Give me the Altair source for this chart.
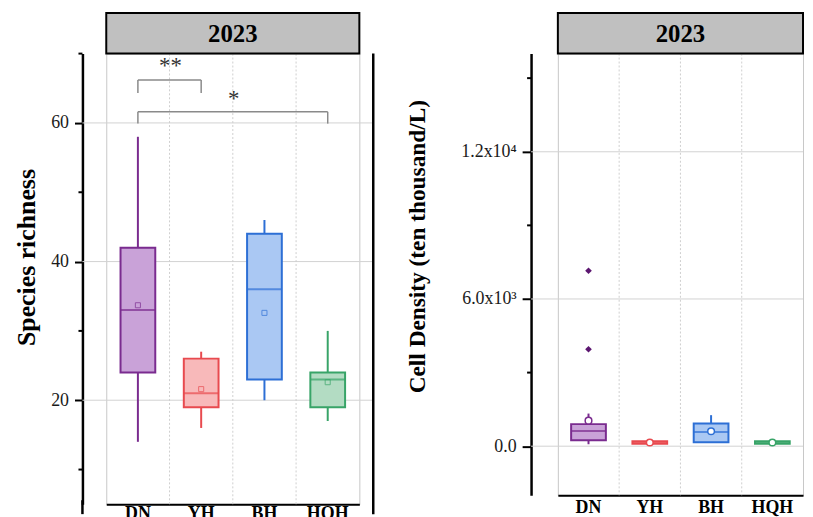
import altair as alt
import pandas as pd

SERIF = "Liberation Serif"

groups = ["DN", "YH", "BH", "HQH"]
stroke_colors = ["#7a2b8f", "#e84a4f", "#2d6fd5", "#38a468"]
fill_colors = ["#c9a2d8", "#f8b9ba", "#aac8f3", "#b3dcc3"]
year_label = ["2023"]

# ---- Panel 1: species richness ----
sr_min = [14, 16, 20, 17]
sr_q1 = [24, 19, 23, 19]
sr_median = [33, 21, 36, 23]
sr_q3 = [42, 26, 44, 24]
sr_max = [58, 27, 46, 30]
sr_mean = [33.7, 21.6, 32.6, 22.6]
sr_ticks = [20, 40, 60]
sr_minor = [10, 30, 50, 70]

sig_from = ["DN", "DN"]
sig_to = ["YH", "HQH"]
sig_top = [66.2, 61.6]
sig_leg = [64.3, 59.9]
sig_text = ["**", "*"]
sig_text_pos = ["YH", "BH"]
sig_text_y = [67.2, 62.5]

# ---- Panel 2: cell density ----
cd_min = [80, 100, 150, 100]
cd_q1 = [240, 100, 160, 100]
cd_median = [620, 150, 580, 150]
cd_q3 = [900, 200, 930, 200]
cd_max = [1330, 200, 1265, 200]
cd_mean = [1040, 150, 610, 150]
cd_out_group = ["DN", "DN"]
cd_out_value = [7150, 3950]
cd_ticks = [0, 6000, 12000]
cd_minor = [3000, 9000, 15000]

ytitle_size = {"Species richness": 26, "Cell Density (ten thousand/L)": 23.5}


def stats_df(mn, q1, med, q3, mx, mean):
    return pd.DataFrame({"group": groups, "lo": mn, "q1": q1, "med": med,
                         "q3": q3, "hi": mx, "mean": mean})


class Ctx:
    pass


def build_panel(df, width, height, ydomain, ticks, minor, yoffset, ytitle,
                title_y, title_pad, label_expr, xlabel_pad, right_ext,
                tick_size, mean_kind, extra_layers):
    c = Ctx()
    c.yscale = alt.Scale(domain=ydomain, nice=False, zero=False)
    c.xscale = alt.Scale(type="band", domain=groups, paddingInner=0, paddingOuter=0)
    c.xaxis = alt.Axis(domainColor="black", domainWidth=2, ticks=False, grid=False,
                       labelFont=SERIF, labelFontSize=18, labelFontWeight="bold",
                       labelColor="black", labelPadding=xlabel_pad, labelAngle=0,
                       title=None)
    yaxis_kw = dict(values=ticks, offset=yoffset, grid=False, domainColor="black",
                    domainWidth=2.5, tickColor="black", tickWidth=2, tickSize=tick_size,
                    labelFont=SERIF, labelFontSize=18, labelColor="#1a1a1a",
                    labelPadding=6, title=ytitle, titleFont=SERIF,
                    titleFontSize=ytitle_size[ytitle],
                    titleFontWeight="bold", titleColor="black", titleY=title_y,
                    titlePadding=title_pad)
    if label_expr:
        yaxis_kw["labelExpr"] = label_expr
    c.yaxis = alt.Axis(**yaxis_kw)

    def X(field, **kw):
        return alt.X(field, scale=c.xscale, axis=c.xaxis, **kw)

    def Y(field):
        return alt.Y(field, scale=c.yscale, axis=c.yaxis)

    c.X, c.Y = X, Y

    stroke = alt.Stroke("group:N", scale=alt.Scale(domain=groups, range=stroke_colors), legend=None)
    fill = alt.Fill("group:N", scale=alt.Scale(domain=groups, range=fill_colors), legend=None)

    base = alt.Chart(df)

    grid = alt.Chart(pd.DataFrame({"v": ticks})).mark_rule(color="#d2d2d2", strokeWidth=1).encode(
        y=Y("v:Q"), x=alt.value(-yoffset), x2=alt.value(width + right_ext))

    seps = alt.Chart(pd.DataFrame({"group": groups[1:]})).mark_rule(
        color="#cfcfcf", strokeWidth=1, strokeDash=[2, 2]).encode(
        x=X("group:N", bandPosition=0), y=alt.value(0), y2=alt.value(height))

    minor_ticks = alt.Chart(pd.DataFrame({"v": minor})).mark_rule(color="black", strokeWidth=2).encode(
        y=Y("v:Q"), x=alt.value(-yoffset - 4), x2=alt.value(-yoffset))

    whisk_lo = base.mark_rule(strokeWidth=2).encode(
        x=X("group:N"), y=Y("lo:Q"), y2="q1:Q", stroke=stroke)
    whisk_hi = base.mark_rule(strokeWidth=2).encode(
        x=X("group:N"), y=Y("q3:Q"), y2="hi:Q", stroke=stroke)
    box = base.mark_bar(size=35, strokeWidth=2).encode(
        x=X("group:N"), y=Y("q1:Q"), y2="q3:Q", fill=fill, stroke=stroke)
    median = base.mark_tick(size=35, thickness=2).encode(
        x=X("group:N"), y=Y("med:Q"),
        color=alt.Color("group:N", scale=alt.Scale(domain=groups, range=stroke_colors), legend=None))
    if mean_kind == "square":
        mean = base.mark_point(shape="square", size=26, filled=False, strokeWidth=1).encode(
            x=X("group:N"), y=Y("mean:Q"), stroke=stroke)
    else:
        mean = base.mark_point(shape="circle", size=45, filled=True, fill="white",
                               strokeWidth=1.5, opacity=1).encode(
            x=X("group:N"), y=Y("mean:Q"), stroke=stroke)

    strip_df = pd.DataFrame({"label": year_label})
    strip = alt.Chart(strip_df).mark_rect(fill="#c0c0c0", stroke="black", strokeWidth=2).encode(
        x=alt.value(0), x2=alt.value(width), y=alt.value(-41), y2=alt.value(0))
    strip_text = alt.Chart(strip_df).mark_text(font=SERIF, fontSize=25, fontWeight="bold",
                                               color="black", baseline="middle").encode(
        x=alt.value(width / 2), y=alt.value(-20), text="label:N")

    layers = [grid, seps, minor_ticks, whisk_lo, whisk_hi, box, median, mean] + \
        [f(c) for f in extra_layers] + [strip, strip_text]
    return alt.layer(*layers).properties(width=width, height=height)


def sr_brackets(c):
    d = pd.DataFrame({"f": sig_from, "t": sig_to, "top": sig_top})
    return alt.Chart(d).mark_rule(color="#8a8a8a", strokeWidth=1.5).encode(
        x=c.X("f:N"), x2="t:N", y=c.Y("top:Q"))


def sr_legs_left(c):
    d = pd.DataFrame({"f": sig_from, "top": sig_top, "leg": sig_leg})
    return alt.Chart(d).mark_rule(color="#8a8a8a", strokeWidth=1.5).encode(
        x=c.X("f:N"), y=c.Y("top:Q"), y2="leg:Q")


def sr_legs_right(c):
    d = pd.DataFrame({"t": sig_to, "top": sig_top, "leg": sig_leg})
    return alt.Chart(d).mark_rule(color="#8a8a8a", strokeWidth=1.5).encode(
        x=c.X("t:N"), y=c.Y("top:Q"), y2="leg:Q")


def sr_stars(c):
    d = pd.DataFrame({"p": sig_text_pos, "y": sig_text_y, "s": sig_text})
    return alt.Chart(d).mark_text(font=SERIF, fontSize=23, color="#333333",
                                  baseline="alphabetic", dx=1).encode(
        x=c.X("p:N", bandPosition=0), y=c.Y("y:Q"), text="s:N")


def sr_frame(c):
    d = pd.DataFrame({"label": year_label})
    return alt.Chart(d).mark_rule(color="black", strokeWidth=2.5).encode(
        x=alt.value(269), y=alt.value(0), y2=alt.value(464))


def sr_axisext(c):
    d = pd.DataFrame({"label": year_label})
    return alt.Chart(d).mark_rule(color="black", strokeWidth=2.5).encode(
        x=alt.value(-24), y=alt.value(450), y2=alt.value(464))


def cd_outliers(c):
    d = pd.DataFrame({"group": cd_out_group, "v": cd_out_value})
    return alt.Chart(d).mark_point(shape="diamond", filled=True, size=45, color="#5c1670",
                                   opacity=1).encode(
        x=c.X("group:N"), y=c.Y("v:Q"))


left = build_panel(
    stats_df(sr_min, sr_q1, sr_median, sr_q3, sr_max, sr_mean),
    width=255, height=454, ydomain=[5, 70], ticks=sr_ticks, minor=sr_minor,
    yoffset=24, ytitle="Species richness", title_y=205, title_pad=11,
    label_expr=None, xlabel_pad=0, right_ext=14, tick_size=8, mean_kind="square",
    extra_layers=[sr_brackets, sr_legs_left, sr_legs_right, sr_stars, sr_frame, sr_axisext])

right = build_panel(
    stats_df(cd_min, cd_q1, cd_median, cd_q3, cd_max, cd_mean),
    width=247, height=445, ydomain=[-2000, 16000], ticks=cd_ticks, minor=cd_minor,
    yoffset=27, ytitle="Cell Density (ten thousand/L)", title_y=194, title_pad=32,
    label_expr="datum.value == 0 ? '0.0' : datum.value == 6000 ? '6.0x10³' : '1.2x10⁴'",
    xlabel_pad=3, right_ext=0, tick_size=9, mean_kind="circle",
    extra_layers=[cd_outliers])

chart = alt.hconcat(left, right, spacing=29).properties(
    padding={"left": 5, "top": 1, "right": 0, "bottom": 0}
).configure_view(stroke="#c8c8c8", strokeWidth=1)

chart.save("out.html", embed_options={"renderer": "svg", "actions": False})
